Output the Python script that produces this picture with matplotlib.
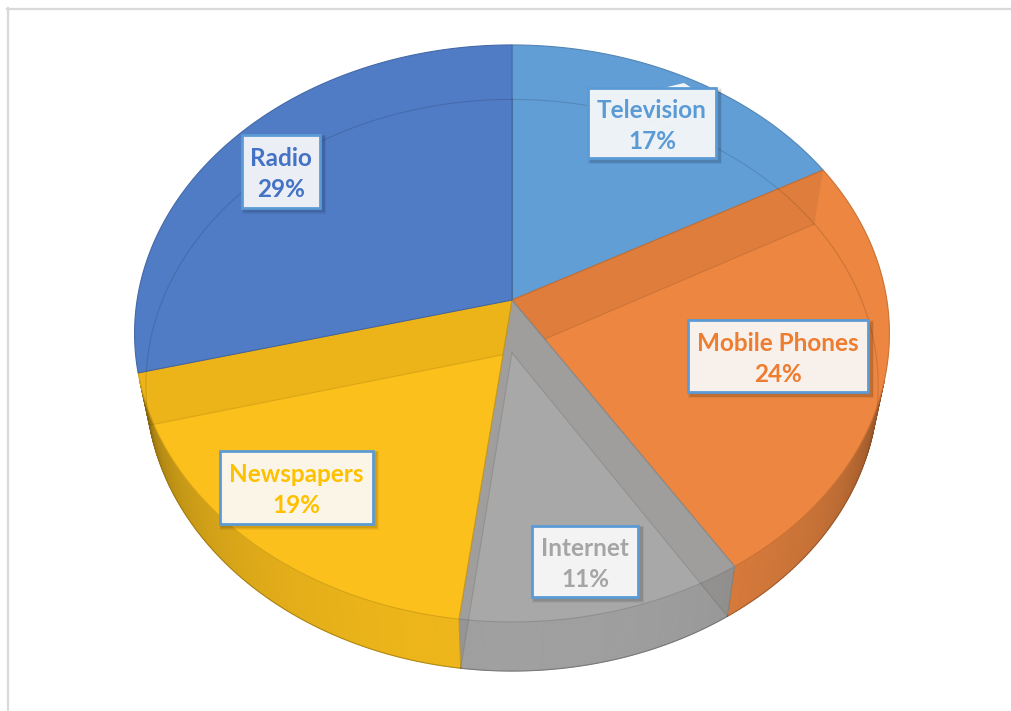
import numpy as np
import matplotlib
matplotlib.use("Agg")
import matplotlib.pyplot as plt
from matplotlib.patches import Polygon, Rectangle
from matplotlib.colors import to_rgb

# ---- data ----
categories = ["Television", "Mobile Phones", "Internet", "Newspapers", "Radio"]
shares = [17, 24, 11, 19, 29]

# ---- styling ----
face_colors = ["#619ED6", "#EC8640", "#A8A8A8", "#FBC01B", "#507CC6"]
text_colors = ["#5B9BD5", "#ED7D31", "#A5A5A5", "#FFC000", "#4472C4"]
label_centers = [(652, 123), (778, 356), (585, 561), (296, 487), (281, 171)]
label_sizes = [(128, 70), (180, 72), (106, 71), (153, 73), (78, 73)]

W, H = 1011, 711
fig = plt.figure(figsize=(W / 100, H / 100), dpi=100)
ax = fig.add_axes([0, 0, 1, 1])
ax.set_xlim(0, W)
ax.set_ylim(H, 0)
ax.axis("off")

# ---- perspective camera for a cylinder pie (radius 1, top z=0, bottom z=-DEPTH) ----
CX, CY = 512, 300
ELEV = np.radians(49.4)
DIST = 5.61
FOCAL = 2103
DEPTH = 0.224


def project(theta_deg, r, z):
    t = np.radians(np.asarray(theta_deg, dtype=float))
    X = r * np.sin(t)
    Y = r * np.cos(t)
    d = DIST + Y * np.cos(ELEV) - z * np.sin(ELEV)
    yc = Y * np.sin(ELEV) + z * np.cos(ELEV)
    return CX + FOCAL * X / d, CY - FOCAL * yc / d


def shade(color, f):
    c = np.array(to_rgb(color))
    return tuple(np.clip(c * f, 0, 1))


total = float(sum(shares))
edges = np.concatenate([[0], np.cumsum(shares) / total * 360.0])

# angular range where the outer wall faces the camera
k = 1.0 / (DIST * np.cos(ELEV))
vis_lo = np.degrees(np.arccos(-k))
vis_hi = 360 - vis_lo

face_patches = []
wall_patches = []

# ---- outer walls ----
for i in range(len(shares)):
    a, b = edges[i], edges[i + 1]
    lo, hi = max(a, vis_lo), min(b, vis_hi)
    if hi <= lo:
        wall_patches.append(None)
        continue
    th = np.linspace(lo, hi, max(3, int((hi - lo) * 2)))
    for t0, t1 in zip(th[:-1], th[1:]):
        tm = 0.5 * (t0 + t1)
        facing = np.clip((-np.cos(np.radians(tm)) - k) / (1 - k), 0, 1)
        f = 0.5 + 0.45 * facing ** 0.45
        xs0, ys0 = project([t0, t1], 1, 0)
        xs1, ys1 = project([t1, t0], 1, -DEPTH)
        col = shade(face_colors[i], f)
        ax.add_patch(Polygon(np.column_stack([np.r_[xs0, xs1], np.r_[ys0, ys1]]),
                             closed=True, facecolor=col, edgecolor=col, lw=0.6, zorder=1))
    xt, yt = project(th, 1, 0)
    xb, yb = project(th[::-1], 1, -DEPTH)
    wall = Polygon(np.column_stack([np.r_[xt, xb], np.r_[yt, yb]]), closed=True,
                   facecolor="none", edgecolor="none", zorder=1)
    ax.add_patch(wall)
    wall_patches.append(wall)
    ax.plot(xb[::-1], yb[::-1], color=shade(face_colors[i], 0.55), lw=0.8, alpha=0.6, zorder=2)

# seams between wall segments
for e in edges:
    if vis_lo < e < vis_hi:
        x0, y0 = project(e, 1, 0)
        x1, y1 = project(e, 1, -DEPTH)
        ax.plot([x0, x1], [y0, y1], color=(0, 0, 0), alpha=0.12, lw=0.8, zorder=2)

# ---- top faces ----
for i in range(len(shares)):
    a, b = edges[i], edges[i + 1]
    th = np.linspace(a, b, int((b - a) * 2) + 2)
    xs, ys = project(th, 1, 0)
    pts = np.column_stack([np.r_[CX, xs], np.r_[CY, ys]])
    p = Polygon(pts, closed=True, facecolor=face_colors[i],
                edgecolor=shade(face_colors[i], 0.85), lw=0.8, zorder=3)
    ax.add_patch(p)
    face_patches.append(p)

# ---- inner radial walls and base outline showing through each slice ----
cbx, cby = project(0, 0, -DEPTH)
for i in range(len(shares)):
    clips = [face_patches[i]] + ([wall_patches[i]] if wall_patches[i] is not None else [])
    for e in (edges[i], edges[i + 1]):
        xt, yt = project(e, 1, 0)
        xb, yb = project(e, 1, -DEPTH)
        quad = np.array([[CX, CY], [xt, yt], [xb, yb], [cbx, cby]])
        for cp in clips:
            q = Polygon(quad, closed=True, facecolor=(0.25, 0.15, 0.05), alpha=0.075,
                        edgecolor="none", zorder=4)
            ax.add_patch(q)
            q.set_clip_path(cp)
            ln, = ax.plot([cbx, xb], [cby, yb], color=(0, 0, 0), alpha=0.10, lw=0.8, zorder=4)
            ln.set_clip_path(cp)
    th = np.linspace(0, 360, 721)
    xb, yb = project(th, 1, -DEPTH)
    ln, = ax.plot(xb, yb, color=(0, 0, 0), alpha=0.13, lw=0.8, zorder=4)
    ln.set_clip_path(face_patches[i])

# ---- data labels ----
for i, cat in enumerate(categories):
    cx, cy = label_centers[i]
    bw, bh = label_sizes[i]
    x0, y0 = cx - bw / 2, cy - bh / 2
    for s, al in [(6, 0.05), (4.5, 0.06), (3, 0.08)]:
        ax.add_patch(Rectangle((x0 + 3 - s / 2, y0 + 3 - s / 2), bw + s, bh + s,
                               facecolor="black", alpha=al, edgecolor="none", zorder=5))
    ax.add_patch(Rectangle((x0, y0), bw, bh, facecolor="white", alpha=0.9,
                           edgecolor="none", zorder=6))
    ax.add_patch(Rectangle((x0, y0), bw, bh, facecolor="none",
                           edgecolor="#5B9BD5", lw=2.0, zorder=7))
    ax.text(cx, cy + 3, f"{cat}\n{shares[i]}%", ha="center", va="center",
            multialignment="center", fontsize=17.5, fontweight="bold",
            family="Lato", color=text_colors[i], linespacing=1.42, zorder=8)

# small callout notch on the Television label
cx, cy = label_centers[0]
bw, bh = label_sizes[0]
top = cy - bh / 2
left = cx - bw / 2
ax.add_patch(Polygon([[left + 75, top], [left + 96, top - 5], [left + 104, top]],
                     closed=True, facecolor="white", alpha=0.9, edgecolor="none", zorder=6))

# ---- chart area frame ----
ax.plot([7, W], [8.5, 8.5], color="#D9D9D9", lw=1.6, zorder=0)
ax.plot([7.5, 7.5], [8, H], color="#D9D9D9", lw=1.6, zorder=0)

fig.savefig("out.png", dpi=100, facecolor="white")
